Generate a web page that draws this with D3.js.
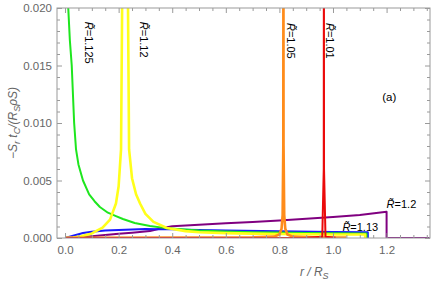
<!DOCTYPE html>
<html>
<head>
<meta charset="utf-8">
<script src="https://cdn.jsdelivr.net/npm/d3@7"></script>
<style>
  body { margin: 0; background: #fff; }
  svg { font-family: "Liberation Sans", Arial, sans-serif; }
</style>
</head>
<body>
<svg id="chart" width="436" height="285"></svg>
<script>
// curves: r/R_S and -S_r t_C/(R_S rho S)
const greenR = [0.008, 0.012, 0.018, 0.025, 0.034, 0.041, 0.05, 0.067, 0.09, 0.11, 0.13, 0.16, 0.19, 0.216, 0.26, 0.317, 0.37, 0.42, 0.5, 0.6, 0.7, 0.8, 0.9, 1.0, 1.1, 1.125, 1.125]
const greenV = [0.026, 0.020, 0.0172, 0.015, 0.010, 0.0077, 0.0064, 0.005, 0.0038, 0.0032, 0.0027, 0.0022, 0.0019, 0.00165, 0.0013, 0.00104, 0.00088, 0.00078, 0.00066, 0.00057, 0.00051, 0.00047, 0.00044, 0.00042, 0.0004, 0.0004, 0]

const yellowR = [0.0, 0.03, 0.06, 0.1, 0.14, 0.168, 0.19, 0.2, 0.209, 0.213, 0.218, 0.224, 0.23, 0.235, 0.239, 0.25, 0.265, 0.28, 0.3, 0.33, 0.38, 0.45, 0.5, 0.6, 0.7, 0.8, 0.9, 1.0, 1.12, 1.12]
const yellowV = [0, 0.00005, 0.00015, 0.0004, 0.0009, 0.0016, 0.003, 0.0045, 0.0077, 0.02, 0.04, 0.05, 0.04, 0.02, 0.0077, 0.0052, 0.0038, 0.003, 0.0021, 0.0014, 0.00087, 0.0006, 0.0005, 0.00042, 0.00038, 0.00035, 0.00033, 0.00031, 0.0003, 0]

const blueR = [0.0, 0.03, 0.067, 0.1, 0.15, 0.2, 0.3, 0.4, 0.5, 0.6, 0.8, 1.0, 1.13, 1.13]
const blueV = [0, 0.0002, 0.00043, 0.00055, 0.00065, 0.0007, 0.00078, 0.00075, 0.0007, 0.00065, 0.00058, 0.00052, 0.0005, 0]

const purpleR = [0.0, 0.05, 0.1, 0.15, 0.2, 0.25, 0.317, 0.36, 0.4, 0.5, 0.6, 0.7, 0.8, 0.9, 1.0, 1.1, 1.2, 1.2, 1.36]
const purpleV = [0, 0.00004, 0.00015, 0.00026, 0.00036, 0.00046, 0.0006, 0.00085, 0.00102, 0.00116, 0.00128, 0.0014, 0.00153, 0.00167, 0.00182, 0.002, 0.00228, 0, 0]

const orangeR = [0.0, 0.5, 0.7, 0.78, 0.8, 0.808, 0.812, 0.8145, 0.815, 0.8155, 0.818, 0.822, 0.83, 0.85, 0.95, 1.05]
const orangeV = [0.00002, 0.00003, 0.00006, 0.00012, 0.0003, 0.0008, 0.002, 0.008, 0.03, 0.008, 0.002, 0.0008, 0.0003, 0.00012, 0.00005, 0.00003]

const redR = [0.0, 0.9, 0.96, 0.9655, 0.966, 0.9665, 0.972, 1.01]
const redV = [0.00001, 0.00002, 0.0001, 0.006, 0.03, 0.006, 0.0001, 0.00002]

const xTicks = [0, 0.2, 0.4, 0.6, 0.8, 1.0, 1.2]
const yTicks = [0, 0.005, 0.010, 0.015, 0.020]

const series = [
  { name: 'purple', r: purpleR, v: purpleV, color: '#800080', w: 2 },
  { name: 'blue', r: blueR, v: blueV, color: '#1a1aff', w: 2 },
  { name: 'green', r: greenR, v: greenV, color: '#1ee61e', w: 2 },
  { name: 'yellow', r: yellowR, v: yellowV, color: '#ffff1a', w: 2.6 },
  { name: 'orange', r: orangeR, v: orangeV, color: '#ff8c1a', w: 2.6 },
  { name: 'red', r: redR, v: redV, color: '#eb0a0a', w: 2 }
]

// annotations
const labels = [
  { r: 0.075, v: 0.0188, text: '1.125', rot: true },
  { r: 0.28, v: 0.0188, text: '1.12', rot: true },
  { r: 0.83, v: 0.0187, text: '1.05', rot: true },
  { r: 0.975, v: 0.0187, text: '1.01', rot: true },
  { r: 1.2, v: 0.0026, text: '1.2', rot: false },
  { r: 1.035, v: 0.00064, text: '1.13', rot: false }
]

const svg = d3.select('#chart')
const mL = 57, mR = 430, mT = 8, mB = 238

const x = d3.scaleLinear().domain([-0.03, 1.362]).range([mL, mR])
const y = d3.scaleLinear().domain([0, 0.02]).range([mB, mT])

svg.append('defs').append('clipPath').attr('id', 'clip')
  .append('rect')
    .attr('x', mL).attr('y', mT)
    .attr('width', mR - mL).attr('height', mB - mT)

const line = d3.line()
  .x(d => x(d[0]))
  .y(d => y(d[1]))

const plot = svg.append('g').attr('clip-path', 'url(#clip)')
series.forEach(s => {
  const pts = s.r.map((r, i) => [r, s.v[i]])
  plot.append('path')
    .attr('d', line(pts))
    .attr('fill', 'none')
    .attr('stroke', s.color)
    .attr('stroke-width', s.w)
    .attr('stroke-linejoin', 'round')
})

// frame + ticks, inward like Mathematica
const frameColor = '#9a9a9a'
const xMinor = d3.range(0, 1.36, 0.05).filter(t => !xTicks.some(m => Math.abs(m - t) < 1e-6))
const yMinor = d3.range(0, 0.0201, 0.001).filter(t => !yTicks.some(m => Math.abs(m - t) < 1e-9))

const styleAxis = g => {
  g.select('.domain').remove()
  g.selectAll('line').attr('stroke', frameColor)
  g.selectAll('text').attr('fill', '#666').attr('font-size', 11.5)
}

svg.append('g').attr('transform', `translate(0,${mB})`)
  .call(d3.axisBottom(x).tickValues(xTicks).tickFormat(d3.format('.1f')).tickSize(-5).tickPadding(8))
  .call(styleAxis)
svg.append('g').attr('transform', `translate(0,${mB})`)
  .call(d3.axisBottom(x).tickValues(xMinor).tickFormat('').tickSize(-3))
  .call(styleAxis)
svg.append('g').attr('transform', `translate(0,${mT})`)
  .call(d3.axisTop(x).tickValues(xTicks).tickFormat('').tickSize(-5))
  .call(styleAxis)
svg.append('g').attr('transform', `translate(0,${mT})`)
  .call(d3.axisTop(x).tickValues(xMinor).tickFormat('').tickSize(-3))
  .call(styleAxis)

svg.append('g').attr('transform', `translate(${mL},0)`)
  .call(d3.axisLeft(y).tickValues(yTicks).tickFormat(d3.format('.3f')).tickSize(-5).tickPadding(5))
  .call(styleAxis)
svg.append('g').attr('transform', `translate(${mL},0)`)
  .call(d3.axisLeft(y).tickValues(yMinor).tickFormat('').tickSize(-3))
  .call(styleAxis)
svg.append('g').attr('transform', `translate(${mR},0)`)
  .call(d3.axisRight(y).tickValues(yTicks).tickFormat('').tickSize(-5))
  .call(styleAxis)
svg.append('g').attr('transform', `translate(${mR},0)`)
  .call(d3.axisRight(y).tickValues(yMinor).tickFormat('').tickSize(-3))
  .call(styleAxis)

svg.append('rect')
  .attr('x', mL).attr('y', mT)
  .attr('width', mR - mL).attr('height', mB - mT)
  .attr('fill', 'none').attr('stroke', frameColor).attr('stroke-width', 1)

// curve labels
labels.forEach(l => {
  const t = svg.append('text')
    .attr('font-size', 11)
    .attr('fill', '#000')
    .attr('transform', l.rot
      ? `translate(${x(l.r)},${y(l.v)}) rotate(90)`
      : `translate(${x(l.r)},${y(l.v)})`)
  t.append('tspan').attr('font-style', 'italic').text('R\u0303')
  t.append('tspan').text('=' + l.text)
})

svg.append('text')
  .attr('x', x(1.21)).attr('y', y(0.0119))
  .attr('text-anchor', 'middle')
  .attr('font-size', 11.5)
  .text('(a)')

// axis titles
const yl = svg.append('text')
  .attr('transform', `translate(17,${(mT + mB) / 2}) rotate(-90)`)
  .attr('text-anchor', 'middle')
  .attr('fill', '#666')
  .attr('font-size', 12)
  .attr('font-style', 'italic')
yl.append('tspan').text('\u2212S')
yl.append('tspan').attr('font-size', 9).attr('dy', 3).text('r')
yl.append('tspan').attr('dy', -3).text(' t')
yl.append('tspan').attr('font-size', 9).attr('dy', 3).text('C')
yl.append('tspan').attr('dy', -3).text('/(R')
yl.append('tspan').attr('font-size', 9).attr('dy', 3).text('S')
yl.append('tspan').attr('dy', -3).text('\u03c1S)')

const xl = svg.append('text')
  .attr('x', x(0.93)).attr('y', 276)
  .attr('text-anchor', 'middle')
  .attr('fill', '#666')
  .attr('font-size', 12)
  .attr('font-style', 'italic')
xl.append('tspan').text('r / R')
xl.append('tspan').attr('font-size', 9).attr('dy', 3).text('S')
</script>
</body>
</html>
